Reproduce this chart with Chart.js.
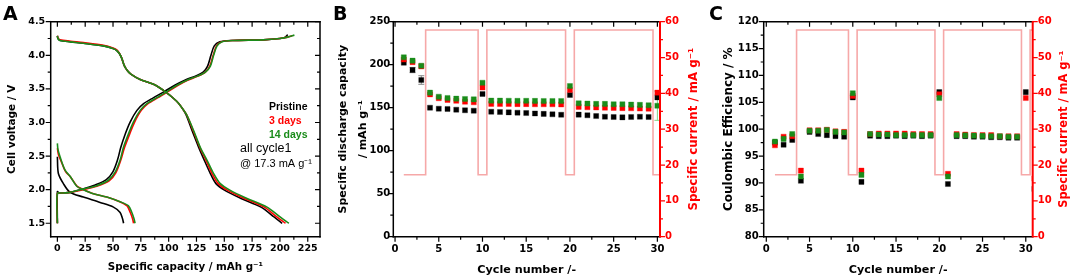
<!DOCTYPE html>
<html>
<head>
<meta charset="utf-8">
<script src="https://cdn.jsdelivr.net/npm/chart.js@4.4.1/dist/chart.umd.min.js"></script>
<style>
  html, body { margin: 0; padding: 0; background: #fff; }
  #wrap { position: relative; width: 1072px; height: 279px; overflow: hidden; }
  canvas { position: absolute; top: 0; }
  .tag { position: absolute; font: bold 19px "DejaVu Sans", sans-serif; line-height: 19px; color: #000; }
</style>
</head>
<body>
<div id="wrap">
  <canvas id="chartA" width="330" height="279" style="left:0px"></canvas>
  <canvas id="chartB" width="374" height="279" style="left:330px"></canvas>
  <canvas id="chartC" width="368" height="279" style="left:704px"></canvas>
  <div class="tag" style="left:3px;top:4px">A</div>
  <div class="tag" style="left:333px;top:4px">B</div>
  <div class="tag" style="left:709px;top:4px">C</div>
</div>
<script>
// ---- panel A : voltage profiles, [capacity mAh/g, voltage V] ----
const pristineFirst = [[0,2.49],[0.9,2.24],[5.4,2.09],[11.4,1.96],[23.4,1.89],[38.4,1.81],[50.4,1.74],[56.4,1.66],[58.5,1.57],[59.5,1.5]];
const day3First = [[0,2.62],[1,2.52],[3,2.44],[7.4,2.27],[11.8,2.19],[17.8,2.05],[23.8,2.0],[32.4,1.94],[44.4,1.89],[56,1.82],[62.5,1.76],[65.5,1.66],[67.5,1.57],[68.5,1.5]];
const day14First = [[0,2.69],[0.5,2.6],[2.4,2.49],[6.9,2.29],[11.4,2.2],[17.4,2.05],[23.4,2.0],[32.4,1.94],[44.4,1.89],[56.4,1.82],[63.9,1.76],[66.9,1.66],[68.8,1.57],[69.8,1.5]];

const pristineCharge = [[0,1.5],[0,1.97],[1.5,1.95],[5,1.95],[11.4,1.96],[23,2.01],[34,2.07],[44,2.15],[50,2.27],[54,2.44],[57,2.63],[61,2.83],[65.5,3.01],[71.5,3.18],[77.5,3.28],[86.5,3.37],[96,3.46],[105.5,3.555],[114.5,3.63],[124,3.69],[131,3.75],[135,3.84],[138,4.0],[141,4.14],[146,4.2],[156,4.22],[185,4.23],[200,4.25],[205,4.27],[206.5,4.3],[207,4.29]];
const day3Charge = [[0,1.5],[0,1.94],[5,1.95],[11.4,1.96],[23.4,2.0],[35.4,2.05],[46.5,2.13],[52.5,2.25],[57,2.44],[60.4,2.63],[65,2.83],[69.5,3.01],[75.4,3.18],[81.4,3.28],[90.4,3.37],[99.4,3.46],[108.5,3.555],[117,3.63],[126.5,3.69],[133,3.75],[137,3.84],[140,4.0],[143,4.14],[147.5,4.2],[158,4.22],[185,4.23],[200,4.25],[207,4.27],[211,4.29]];
const day14Charge = [[0,1.5],[0,1.94],[5,1.95],[11.4,1.96],[23.4,2.01],[35.4,2.06],[45.9,2.14],[51.9,2.26],[56.4,2.44],[59.4,2.63],[63.9,2.83],[68.4,3.01],[74.4,3.18],[80.4,3.28],[89.4,3.37],[98.4,3.46],[107.5,3.555],[116.4,3.63],[126,3.69],[133,3.75],[137.5,3.84],[140.4,4.0],[143.5,4.14],[148,4.2],[158.4,4.22],[185,4.23],[200,4.25],[207,4.27],[213,4.3]];

const pristineDis = [[0,4.29],[0.5,4.25],[2.4,4.22],[12,4.2],[23.4,4.18],[41.4,4.14],[50,4.1],[53.4,4.07],[56,4.02],[58,3.95],[60,3.85],[63,3.77],[66,3.72],[74.4,3.64],[86.4,3.57],[96.9,3.46],[107,3.32],[111,3.24],[115.5,3.12],[121,2.88],[127,2.63],[132,2.44],[137.5,2.24],[142.5,2.09],[150.5,1.99],[165,1.87],[183,1.74],[195,1.59],[202,1.5]];
const day3Dis = [[0,4.29],[0.5,4.26],[2.4,4.23],[12,4.21],[23.4,4.19],[41.4,4.15],[50,4.11],[53.4,4.08],[56,4.02],[58,3.95],[60,3.85],[63,3.77],[66,3.72],[74.4,3.64],[86.4,3.57],[96.9,3.46],[107,3.32],[111,3.24],[116,3.12],[122,2.88],[128,2.63],[133.5,2.44],[139,2.24],[144.5,2.09],[153,1.99],[168,1.87],[186,1.74],[197.5,1.59],[205,1.5]];
const day14Dis = [[0,4.29],[0.5,4.25],[2.4,4.22],[12,4.2],[23.4,4.18],[41.4,4.14],[50,4.1],[53.4,4.07],[56,4.02],[58,3.95],[60,3.85],[63,3.77],[66,3.72],[74.4,3.64],[86.4,3.57],[96.9,3.46],[107,3.32],[111,3.24],[116,3.12],[122.4,2.88],[128.4,2.63],[134.4,2.44],[140.4,2.24],[146.4,2.09],[155.4,1.99],[170.4,1.87],[188.4,1.74],[200.4,1.59],[208,1.5]];

// ---- panels B and C : cycling ----
const cycles = [1,2,3,4,5,6,7,8,9,10,11,12,13,14,15,16,17,18,19,20,21,22,23,24,25,26,27,28,29,30,31];
const capPristine = [202.3,193.8,182.2,150,148.8,148.5,147.7,147,146.5,166,145.3,145,144.6,144.2,143.8,143.3,142.8,142.3,141.8,164.8,141.9,141.2,140.3,139.5,139.2,138.8,139.2,139.5,139.2,162];
const capDay3 = [206,203,198,165.5,161,159,158,157,156.3,173.5,154.5,154.3,154.3,154.2,154.2,154,154,154,153.8,170.5,151,150.5,150.3,150,149.8,149.5,149.3,149,148.8,167.5];
const capDay14 = [208.6,204.7,198.8,167.5,162.8,161.3,160.5,160.1,159.7,179,158.2,158.2,158.1,158,158,157.9,157.8,157.8,157.8,175.2,155.1,154.8,154.4,154.4,154,154,153.6,153.3,152.9,152.3];
const capErrPristine = [0,3,5];
const capErrDay14 = [0,0,0,0,0,0,0,0,0,0,0,0,0,0,0,0,0,0,0,0,0,0,0,0,0,0,0,0,0,17];

const cePristine = [97.5,97.1,98.0,90.4,99.5,99.1,98.9,98.7,98.6,105.9,90.2,98.8,98.7,98.7,98.8,98.7,98.8,98.7,98.8,106.9,89.8,98.7,98.7,98.6,98.6,98.5,98.5,98.4,98.4,106.9,88.9];
const ceDay3 = [97.0,98.6,98.7,92.3,99.8,99.8,99.9,99.6,99.5,106.2,92.3,99.1,99.2,99.2,99.2,99.2,99.1,99.1,99.1,106.5,91.7,99.1,99.0,98.9,98.9,98.9,98.7,98.7,98.7,105.8,90.8];
const ceDay14 = [97.7,98.2,99.1,91.2,99.7,99.7,99.85,99.5,99.4,106.7,91.5,99.1,99.0,99.0,98.9,98.9,98.9,98.9,98.9,105.8,91.2,98.9,98.85,98.8,98.75,98.7,98.7,98.6,98.6,null,null];

const current = [17.3,17.3,17.3,57.7,57.7,57.7,57.7,57.7,57.7,17.3,57.7,57.7,57.7,57.7,57.7,57.7,57.7,57.7,57.7,17.3,57.7,57.7,57.7,57.7,57.7,57.7,57.7,57.7,57.7,17.3,57.7];

// ---- tick labels ----
const ticksCapA = [0,25,50,75,100,125,150,175,200,225];
const ticksVoltA = [1.5,2.0,2.5,3.0,3.5,4.0,4.5];
const ticksCycle = [0,5,10,15,20,25,30];
const ticksCapB = [0,50,100,150,200,250];
const ticksCeC = [80,85,90,95,100,105,110,115,120];
const ticksCurrent = [0,10,20,30,40,50,60];

const BLACK = '#000000', RED = '#ff0000', GREEN = '#1a8c1a', PINK = '#f6a8a8';
const FONT = '"DejaVu Sans", sans-serif';
const NOTE_FONT = '"Liberation Sans", Arial, sans-serif';

Chart.defaults.font.family = FONT;
Chart.defaults.color = '#000';

// box lines plus major / minor tick marks
const frame = {
  id: 'frame',
  afterDatasetsDraw(chart, args, o) {
    if (!o.lines) return;
    const ctx = chart.ctx, a = chart.chartArea;
    ctx.save();
    o.lines.forEach(l => {
      const s = chart.scales[l.scale];
      const horiz = s.isHorizontal();
      const edge = { top: a.top, bottom: a.bottom, left: a.left, right: a.right }[l.side];
      ctx.strokeStyle = l.color || '#000';
      ctx.lineWidth = l.width || 1.5;
      ctx.beginPath();
      if (horiz) { ctx.moveTo(a.left - 0.75, edge); ctx.lineTo(a.right + 0.75, edge); }
      else { ctx.moveTo(edge, a.top - 0.75); ctx.lineTo(edge, a.bottom + 0.75); }
      ctx.stroke();
      ctx.lineWidth = 1.2;
      ctx.beginPath();
      for (let v = l.from; v <= l.to + 1e-9; v += l.minor) {
        const major = Math.abs(v / l.major - Math.round(v / l.major)) < 1e-6;
        const len = major ? 5 : 3;
        const p = s.getPixelForValue(v);
        if (horiz) { ctx.moveTo(p, edge); ctx.lineTo(p, edge + l.dir * len); }
        else { ctx.moveTo(edge, p); ctx.lineTo(edge + l.dir * len, p); }
      }
      ctx.stroke();
    });
    ctx.restore();
  }
};

// vertical title on the right axis, reading bottom to top
const sideTitle = {
  id: 'sideTitle',
  afterDraw(chart, args, o) {
    if (!o.text) return;
    const a = chart.chartArea, ctx = chart.ctx;
    ctx.save();
    ctx.translate(o.x, (a.top + a.bottom) / 2);
    ctx.rotate(-Math.PI / 2);
    ctx.font = 'bold ' + o.size + 'px ' + FONT;
    ctx.fillStyle = o.color;
    ctx.textAlign = 'center';
    ctx.textBaseline = 'middle';
    ctx.fillText(o.text, 0, 0);
    ctx.restore();
  }
};

// plain text notes inside a panel
const notes = {
  id: 'notes',
  afterDraw(chart, args, o) {
    if (!o.items) return;
    const ctx = chart.ctx;
    o.items.forEach(t => {
      ctx.save();
      ctx.font = t.font;
      ctx.fillStyle = t.color;
      ctx.textBaseline = 'middle';
      ctx.textAlign = 'left';
      ctx.fillText(t.text, t.x, t.y);
      ctx.restore();
    });
  }
};

// vertical error bars drawn under the markers
const errBars = {
  id: 'errBars',
  beforeDatasetsDraw(chart) {
    const ctx = chart.ctx;
    chart.data.datasets.forEach((ds, i) => {
      if (!ds.err) return;
      const meta = chart.getDatasetMeta(i);
      const ys = chart.scales[meta.yAxisID];
      ctx.save();
      ctx.strokeStyle = ds.errColor;
      ctx.lineWidth = 1;
      meta.data.forEach((pt, j) => {
        const e = ds.err[j];
        if (!e) return;
        const v = ds.data[j].y;
        const y1 = ys.getPixelForValue(v - e), y2 = ys.getPixelForValue(v + e);
        ctx.beginPath();
        ctx.moveTo(pt.x, y1); ctx.lineTo(pt.x, y2);
        ctx.moveTo(pt.x - 3, y1); ctx.lineTo(pt.x + 3, y1);
        ctx.moveTo(pt.x - 3, y2); ctx.lineTo(pt.x + 3, y2);
        ctx.stroke();
      });
      ctx.restore();
    });
  }
};

Chart.register(frame, sideTitle, notes, errBars);

const pts = arr => arr.map(([x, y]) => ({ x, y }));
const byCycle = arr => arr.map((y, i) => ({ x: cycles[i], y }));
const fixTicks = list => s => { s.ticks = list.map(v => ({ value: v })); };

function curve(data, color) {
  return { data: pts(data), borderColor: color, borderWidth: 1.6, pointRadius: 0, showLine: true, tension: 0.3, fill: false };
}
function markers(data, color, halo) {
  return {
    data: byCycle(data), backgroundColor: color, borderColor: halo, borderWidth: 1,
    pointStyle: 'rect', pointRadius: 3.6, showLine: false
  };
}
function currentLine() {
  return {
    data: byCycle(current), yAxisID: 'y2', borderColor: PINK, borderWidth: 1.6,
    pointRadius: 0, showLine: true, stepped: 'middle', fill: false
  };
}
function axisX(min, max, list, titleText, titleSize, titlePad) {
  return {
    type: 'linear', min, max,
    afterBuildTicks: fixTicks(list),
    afterFit: s => { s.height = 42.3; },
    grid: { display: false, drawTicks: false }, border: { display: false },
    ticks: { padding: 7, font: { size: 10, weight: 'bold' }, color: '#000', maxRotation: 0, autoSkip: false },
    title: { display: true, text: titleText, font: { size: titleSize, weight: 'bold' }, color: '#000', padding: { top: 0, bottom: titlePad } }
  };
}
function axisY(min, max, list, w, titleText, titleSize, titlePad, fmt) {
  return {
    type: 'linear', position: 'left', min, max,
    afterBuildTicks: fixTicks(list),
    afterFit: s => { s.width = w; },
    grid: { display: false, drawTicks: false }, border: { display: false },
    ticks: { padding: 5, font: { size: 10, weight: 'bold' }, color: '#000', callback: fmt || (v => v) },
    title: { display: true, text: titleText, font: { size: titleSize, weight: 'bold', lineHeight: 1.8 }, color: '#000', padding: { top: titlePad, bottom: 0 } }
  };
}
function axisCurrent(w) {
  return {
    type: 'linear', position: 'right', min: 0, max: 60,
    afterBuildTicks: fixTicks(ticksCurrent),
    afterFit: s => { s.width = w; },
    grid: { display: false, drawTicks: false }, border: { display: false },
    ticks: { padding: 5, font: { size: 10, weight: 'bold' }, color: RED }
  };
}
const baseOpts = { responsive: false, animation: false, maintainAspectRatio: false };

// ---------- A ----------
const xA = axisX(-6, 236, ticksCapA, 'Specific capacity / mAh g⁻¹', 10.3, 5);
xA.ticks.font.size = 9.5;
xA.ticks.padding = 6.5;
const yA = axisY(1.3, 4.5, ticksVoltA, 50.7, 'Cell voltage / V', 10.5, 2.5, v => v.toFixed(1));
yA.ticks.font.size = 9.5;
yA.ticks.padding = 5.5;

new Chart(document.getElementById('chartA'), {
  type: 'scatter',
  data: {
    datasets: [
      curve(day14First, GREEN), curve(day14Charge, GREEN), curve(day14Dis, GREEN),
      curve(day3First, RED), curve(day3Charge, RED), curve(day3Dis, RED),
      curve(pristineFirst, BLACK), curve(pristineCharge, BLACK), curve(pristineDis, BLACK)
    ]
  },
  options: {
    ...baseOpts,
    layout: { padding: { top: 21.7, right: 10, left: 0, bottom: 0 } },
    scales: { x: xA, y: yA },
    plugins: {
      legend: { display: false }, tooltip: { enabled: false },
      frame: { lines: [
        { scale: 'x', side: 'bottom', dir: 1, from: 0, to: 225, major: 25, minor: 12.5 },
        { scale: 'x', side: 'top', dir: 1, from: 0, to: 225, major: 25, minor: 12.5 },
        { scale: 'y', side: 'left', dir: -1, from: 1.5, to: 4.5, major: 0.5, minor: 0.25 },
        { scale: 'y', side: 'right', dir: -1, from: 1.5, to: 4.5, major: 0.5, minor: 0.25 }
      ] },
      notes: { items: [
        { text: 'Pristine', x: 269, y: 107.3, color: BLACK, font: 'bold 10.5px ' + NOTE_FONT },
        { text: '3 days', x: 269, y: 121, color: RED, font: 'bold 10.5px ' + NOTE_FONT },
        { text: '14 days', x: 269, y: 135, color: GREEN, font: 'bold 10.5px ' + NOTE_FONT },
        { text: 'all cycle1', x: 240, y: 148.3, color: BLACK, font: '12.5px ' + NOTE_FONT },
        { text: '@ 17.3 mA g⁻¹', x: 240, y: 164, color: BLACK, font: '11px ' + NOTE_FONT }
      ] }
    }
  }
});

// ---------- B ----------
const dsGreenB = markers(capDay14, GREEN, 'rgba(26,140,26,0.35)');
dsGreenB.err = capErrDay14; dsGreenB.errColor = '#86d286';
const dsBlackB = markers(capPristine, BLACK, 'rgba(0,0,0,0.3)');
dsBlackB.err = capErrPristine; dsBlackB.errColor = '#888';

const yB = axisY(0, 250, ticksCapB, 63.3, ['Specific discharge capacity', '/ mAh g⁻¹'], 11, 3);
yB.ticks.padding = 3;

new Chart(document.getElementById('chartB'), {
  type: 'scatter',
  data: {
    datasets: [
      dsGreenB,
      markers(capDay3, RED, 'rgba(255,0,0,0.35)'),
      dsBlackB,
      currentLine()
    ]
  },
  options: {
    ...baseOpts,
    layout: { padding: { top: 21.7, right: 0, left: 0, bottom: 0 } },
    scales: {
      x: axisX(-0.2, 30.3, ticksCycle, 'Cycle number /-', 11.2, 2.2),
      y: yB,
      y2: axisCurrent(44)
    },
    plugins: {
      legend: { display: false }, tooltip: { enabled: false },
      frame: { lines: [
        { scale: 'x', side: 'bottom', dir: 1, from: 0, to: 30, major: 5, minor: 2.5 },
        { scale: 'x', side: 'top', dir: 1, from: 0, to: 30, major: 5, minor: 2.5 },
        { scale: 'y', side: 'left', dir: -1, from: 0, to: 250, major: 50, minor: 25 },
        { scale: 'y2', side: 'right', dir: 1, from: 0, to: 60, major: 10, minor: 5, color: RED, width: 2 }
      ] },
      sideTitle: { text: 'Specific current / mA g⁻¹', x: 364, color: RED, size: 11.8 }
    }
  }
});

// ---------- C ----------
new Chart(document.getElementById('chartC'), {
  type: 'scatter',
  data: {
    datasets: [
      markers(ceDay14, GREEN, 'rgba(26,140,26,0.35)'),
      markers(ceDay3, RED, 'rgba(255,0,0,0.35)'),
      markers(cePristine, BLACK, 'rgba(0,0,0,0.3)'),
      currentLine()
    ]
  },
  options: {
    ...baseOpts,
    layout: { padding: { top: 21.7, right: 0, left: 0, bottom: 0 } },
    scales: {
      x: axisX(-0.3, 30.8, ticksCycle, 'Cycle number /-', 11.2, 2.2),
      y: axisY(80, 120, ticksCeC, 59.7, 'Coulombic Efficiency / %', 12, 14.5),
      y2: axisCurrent(39.3)
    },
    plugins: {
      legend: { display: false }, tooltip: { enabled: false },
      frame: { lines: [
        { scale: 'x', side: 'bottom', dir: 1, from: 0, to: 30, major: 5, minor: 2.5 },
        { scale: 'x', side: 'top', dir: 1, from: 0, to: 30, major: 5, minor: 2.5 },
        { scale: 'y', side: 'left', dir: -1, from: 80, to: 120, major: 5, minor: 2.5 },
        { scale: 'y2', side: 'right', dir: 1, from: 0, to: 60, major: 10, minor: 5, color: RED, width: 2 }
      ] },
      sideTitle: { text: 'Specific current / mA g⁻¹', x: 359.7, color: RED, size: 11.4 }
    }
  }
});
</script>
</body>
</html>
